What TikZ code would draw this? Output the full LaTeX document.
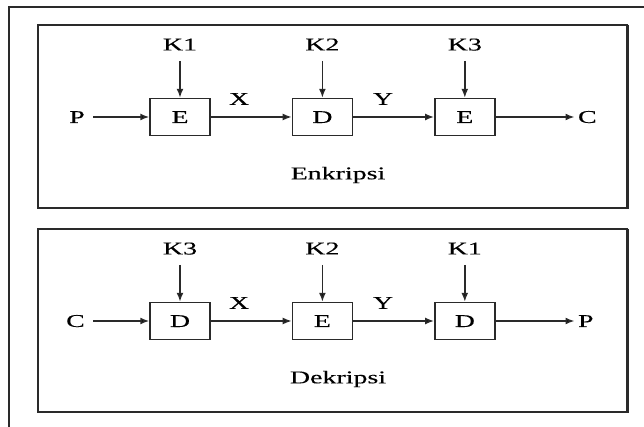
\documentclass[tikz,border=0pt]{standalone}
\usepackage{fontspec}
\setmainfont[FakeStretch=1.55,FakeBold=0.25]{Liberation Serif}
\usetikzlibrary{matrix,arrows.meta,positioning}

\definecolor{ink}{HTML}{2A2A2A}

\tikzset{
  blok/.style={draw=ink, line width=1.4pt, minimum width=60pt, minimum height=37pt},
  panel/.style={draw=ink, line width=1.5pt},
  alur/.style={->, draw=ink, line width=1.6pt},
}

\begin{document}
\begin{tikzpicture}[x=1pt, y=1pt, font=\fontsize{18}{20}\selectfont,
  >={Latex[length=9pt,width=7pt]}]
\useasboundingbox (0,0) rectangle (644,427);
% bingkai luar
\draw[ink, line width=1.8pt] (9,0) -- (9,420) -- (644,420);
% dua panel
\draw[panel] (38,219) rectangle (627,402);
\draw[panel] (38,15) rectangle (627,198);
\draw[ink, line width=3.5pt] (627.5,402) -- (627.5,218);
\draw[ink, line width=3.5pt] (627.5,198) -- (627.5,14);

% enkripsi
\matrix(m1)[matrix of nodes, row sep=44pt, column sep=81pt,
  nodes={anchor=center, text height=12pt, text depth=0pt},
  matrix anchor=m1-2-1.center] at (180,310)
{ K1 & K2 & K3 \\
  |[blok]| E & |[blok]| D & |[blok]| E \\};
\node (p1) [left=61pt of m1-2-1, text height=12pt] {P};
\node (c1) [right=79pt of m1-2-3, text height=12pt] {C};
\path[alur]
  (m1-1-1) edge[shorten <=7pt] (m1-2-1)
  (m1-1-2) edge[shorten <=7pt] (m1-2-2)
  (m1-1-3) edge[shorten <=7pt] (m1-2-3)
  (p1) edge[shorten <=5pt] (m1-2-1)
  (m1-2-1) edge node[pos=0.35, above=8pt] {X} (m1-2-2)
  (m1-2-2) edge node[pos=0.37, above=8pt] {Y} (m1-2-3)
  (m1-2-3) edge (c1);
\node (enk) at (338,252) {Enkripsi};

% dekripsi
\matrix(m2)[matrix of nodes, row sep=44pt, column sep=81pt,
  nodes={anchor=center, text height=12pt, text depth=0pt},
  matrix anchor=m2-2-1.center] at (180,106)
{ K3 & K2 & K1 \\
  |[blok]| D & |[blok]| E & |[blok]| D \\};
\node (c2) [left=61pt of m2-2-1, text height=12pt] {C};
\node (p2) [right=79pt of m2-2-3, text height=12pt] {P};
\path[alur]
  (m2-1-1) edge[shorten <=7pt] (m2-2-1)
  (m2-1-2) edge[shorten <=7pt] (m2-2-2)
  (m2-1-3) edge[shorten <=7pt] (m2-2-3)
  (c2) edge[shorten <=5pt] (m2-2-1)
  (m2-2-1) edge node[pos=0.35, above=8pt] {X} (m2-2-2)
  (m2-2-2) edge node[pos=0.37, above=8pt] {Y} (m2-2-3)
  (m2-2-3) edge (p2);
\node (dek) at (338,48) {Dekripsi};
\end{tikzpicture}
\end{document}
